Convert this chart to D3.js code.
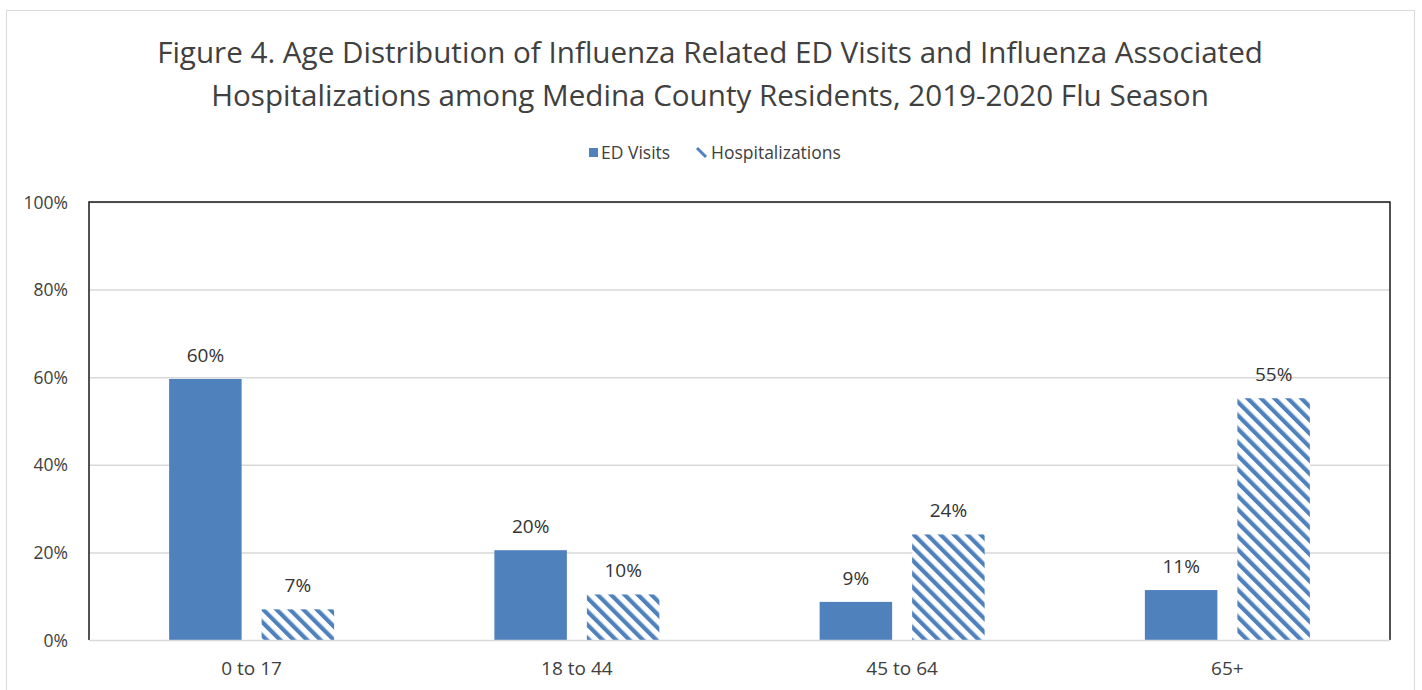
<!DOCTYPE html>
<html><head><meta charset="utf-8">
<script src="https://cdn.jsdelivr.net/npm/d3@7"></script>
<style>body{margin:0;background:#fff;}svg{display:block;font-family:"Open Sans","Noto Sans",sans-serif;}</style>
</head><body>
<svg id="chart" width="1422" height="690"></svg>
<script>
const categories = ["0 to 17", "18 to 44", "45 to 64", "65+"];
const seriesNames = ["ED Visits", "Hospitalizations"];
const edVisits = [59.6, 20.5, 8.7, 11.4];
const hospitalizations = [7.0, 10.4, 24.1, 55.2];
const labelsED = ["60%", "20%", "9%", "11%"];
const labelsHosp = ["7%", "10%", "24%", "55%"];
const yTicks = [0, 20, 40, 60, 80, 100];
const titleLines = ["Figure 4. Age Distribution of Influenza Related ED Visits and Influenza Associated",
                    "Hospitalizations among Medina County Residents, 2019-2020 Flu Season"];

const svg = d3.select("#chart");
const blue = "#4f81bd";
const textCol = "#404040";

// pattern
const defs = svg.append("defs");
const pat = defs.append("pattern").attr("id","hatch").attr("patternUnits","userSpaceOnUse")
  .attr("width",9.5).attr("height",9.5).attr("patternTransform","rotate(-45)");
pat.append("rect").attr("width",9.5).attr("height",9.5).attr("fill","#fff");
pat.append("rect").attr("x",0).attr("y",0).attr("width",4.2).attr("height",9.5).attr("fill",blue);

// outer frame
svg.append("rect").attr("x",6.5).attr("y",10.5).attr("width",1408).attr("height",700)
  .attr("fill","#fff").attr("stroke","#d9d9d9").attr("stroke-width",1);

const m = {left:89, right:1390, top:202, bottom:640};
const y = d3.scaleLinear().domain([0,100]).range([m.bottom, m.top]);
const catScale = d3.scaleBand().domain(categories).range([m.left, m.right]);
const barW = 72.5, gap = 20;
const barX = (i, s) => catScale(categories[i]) + catScale.bandwidth()/2 - (barW + gap/2) + s*(barW+gap);

// gridlines
svg.append("g").selectAll("line").data(yTicks.slice(1)).join("line")
  .attr("x1",m.left).attr("x2",m.right).attr("y1",d=>y(d)+0.5).attr("y2",d=>y(d)+0.5)
  .attr("stroke","#d9d9d9").attr("stroke-width",1.5);

// y axis labels
const yAxis = d3.axisLeft(y).tickValues(yTicks).tickFormat(d=>d+"%").tickSize(0).tickPadding(0);
const yg = svg.append("g").attr("transform",`translate(${68},0)`).call(yAxis);
yg.select(".domain").remove();
yg.selectAll("text").attr("fill",textCol).attr("font-size",17.5).attr("dy","0.35em").attr("font-family","'Open Sans',sans-serif");

// bars
const gBars = svg.append("g");
gBars.selectAll("rect.ed").data(edVisits).join("rect").attr("class","ed")
  .attr("x",(d,i)=>barX(i,0)).attr("width",barW)
  .attr("y",d=>y(d)).attr("height",d=>y(0)-y(d)).attr("fill",blue);
gBars.selectAll("rect.hosp").data(hospitalizations).join("rect").attr("class","hosp")
  .attr("x",(d,i)=>barX(i,1)).attr("width",barW)
  .attr("y",d=>y(d)).attr("height",d=>y(0)-y(d)).attr("fill","url(#hatch)");

// data labels
const gl = svg.append("g").attr("font-size",19).attr("fill","#333").attr("text-anchor","middle");
gl.selectAll("text.ed").data(edVisits).join("text").attr("class","ed")
  .attr("x",(d,i)=>barX(i,0)+barW/2).attr("y",d=>y(d)-17).text((d,i)=>labelsED[i]);
gl.selectAll("text.hosp").data(hospitalizations).join("text").attr("class","hosp")
  .attr("x",(d,i)=>barX(i,1)+barW/2).attr("y",d=>y(d)-17).text((d,i)=>labelsHosp[i]);

// plot frame: black left/top/right, gray bottom
svg.append("path").attr("d",`M${m.left},${m.bottom}V${m.top}H${m.right}V${m.bottom}`)
  .attr("fill","none").attr("stroke","#1a1a1a").attr("stroke-width",1.5);
svg.append("line").attr("x1",m.left).attr("x2",m.right).attr("y1",m.bottom+0.5).attr("y2",m.bottom+0.5)
  .attr("stroke","#d9d9d9").attr("stroke-width",1.5);

// x axis labels
const xAxis = d3.axisBottom(catScale).tickSize(0).tickPadding(0);
const xg = svg.append("g").attr("transform",`translate(0,${m.bottom})`).call(xAxis);
xg.select(".domain").remove();
xg.selectAll("text").attr("fill",textCol).attr("font-size",19).attr("dy",0).attr("y",35).attr("font-family","'Open Sans',sans-serif");

// title
svg.append("g").selectAll("text").data(titleLines).join("text")
  .attr("x",710).attr("y",(d,i)=>63+i*43).attr("text-anchor","middle")
  .attr("font-size",29.6).attr("fill","#404040").text(d=>d);

// legend
const lg = svg.append("g").attr("font-size",17.5).attr("fill",textCol);
lg.append("rect").attr("x",589).attr("y",148).attr("width",9).attr("height",9).attr("fill",blue);
lg.append("line").attr("x1",697).attr("y1",148).attr("x2",706).attr("y2",157)
  .attr("stroke",blue).attr("stroke-width",3);
lg.selectAll("text").data([{name:seriesNames[0], x:601},{name:seriesNames[1], x:711}]).join("text")
  .attr("x",d=>d.x).attr("y",159).text(d=>d.name);
</script>
</body></html>
